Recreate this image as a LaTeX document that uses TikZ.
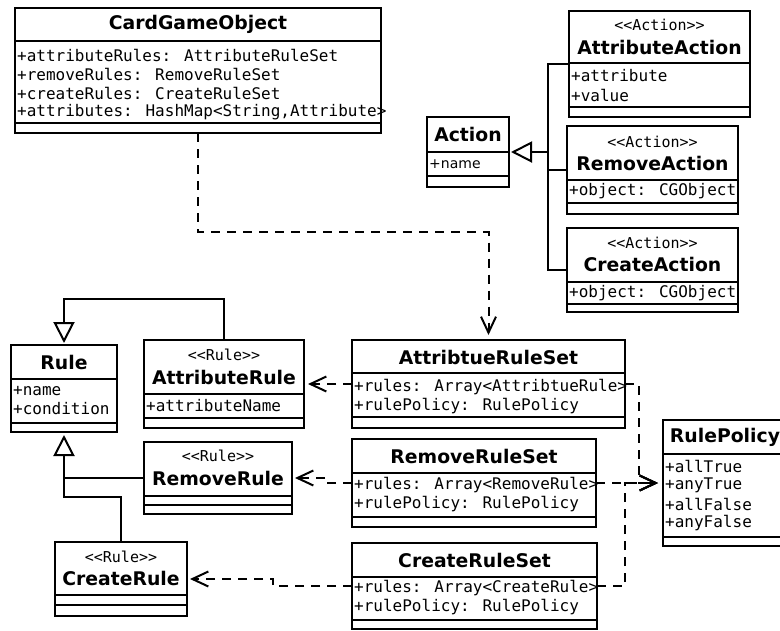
\documentclass[tikz,border=0pt]{standalone}
\usepackage{fontspec}
\setmainfont{DejaVu Sans}
\newfontfamily\monof{DejaVu Sans Mono}
\usetikzlibrary{arrows.meta,calc}
\tikzset{
  box/.style={draw, line width=2pt, fill=white, inner sep=0pt, outer sep=0pt, anchor=north west},
  sepline/.style={line width=2pt},
  ttl/.style={font=\fontsize{18.8}{20}\selectfont\bfseries, inner sep=0pt},
  stereo/.style={font=\monof\fontsize{15}{17}\selectfont, inner sep=0pt},
  attr/.style={font=\monof\fontsize{16}{18}\selectfont, inner sep=0pt, anchor=west},
  sattr/.style={font=\fontsize{14}{16}\selectfont, inner sep=0pt, anchor=west},
  conn/.style={line width=2pt},
  gen/.style={conn, -{Triangle[open, length=21pt, width=21pt, line width=2pt, fill=white]}},
  dep/.style={conn, dash pattern=on 9pt off 7pt, -{Straight Barb[length=16pt, width=15pt, line width=2pt]}},
}
\newcommand\umlbox[5]{%
  \node[box, minimum width={(#4-#2)*1pt}, minimum height={(#5-#3)*1pt}] (#1) at (#2,#3) {};}
\newcommand\umlsep[2]{\draw[sepline] (#1.west |- 0,#2) -- (#1.east |- 0,#2);}
\begin{document}
\begin{tikzpicture}[x=1pt,y=-1pt]
\fill[white] (0,0) rectangle (780,630);
\useasboundingbox (0,0) rectangle (780,630);

% ---------- boxes ----------
\umlbox{cgo}{15}{8}{381}{133}
\umlsep{cgo}{41}\umlsep{cgo}{123}
\umlbox{action}{427}{117}{509}{187}
\umlsep{action}{152}\umlsep{action}{176}
\umlbox{aact}{569}{11}{750}{117}
\umlsep{aact}{63}\umlsep{aact}{107}
\umlbox{ract}{567}{126}{738}{214}
\umlsep{ract}{180}\umlsep{ract}{203}
\umlbox{cact}{567}{228}{738}{312}
\umlsep{cact}{282}\umlsep{cact}{304}
\umlbox{rule}{11}{345}{117}{432}
\umlsep{rule}{379}\umlsep{rule}{423}
\umlbox{arule}{144}{340}{304}{428}
\umlsep{arule}{394}\umlsep{arule}{418}
\umlbox{rrule}{144}{442}{292}{514}
\umlsep{rrule}{496}\umlsep{rrule}{505}
\umlbox{crule}{55}{542}{187}{616}
\umlsep{crule}{595}\umlsep{crule}{605}
\umlbox{aset}{352}{340}{625}{428}
\umlsep{aset}{373}\umlsep{aset}{417}
\umlbox{rset}{352}{439}{596}{527}
\umlsep{rset}{473}\umlsep{rset}{517}
\umlbox{cset}{352}{543}{597}{629}
\umlsep{cset}{577}\umlsep{cset}{620}
\umlbox{rpol}{663}{420}{787}{546}
\umlsep{rpol}{454}\umlsep{rpol}{537}

% ---------- texts ----------
\node[ttl] (cgo-t) at (198,24.5) {CardGameObject};
\node[attr] (cgo-a1) at (17,55) {+attributeRules: AttributeRuleSet};
\node[attr] (cgo-a2) at (17,74) {+removeRules: RemoveRuleSet};
\node[attr] (cgo-a3) at (17,93) {+createRules: CreateRuleSet};
\node[attr] (cgo-a4) at (17,112) {+attributes: HashMap<String,Attribute>};

\node[ttl] (action-t) at (468,134.5) {Action};
\node[sattr] (action-a1) at (429,164) {+name};

\node[stereo] (aact-s) at (659.5,25) {<\kern0pt<Action>\kern0pt>};
\node[ttl] (aact-t) at (659.5,47) {AttributeAction};
\node[attr] (aact-a1) at (571,76) {+attribute};
\node[attr] (aact-a2) at (571,95) {+value};

\node[stereo] (ract-s) at (652.5,142) {<\kern0pt<Action>\kern0pt>};
\node[ttl] (ract-t) at (652.5,163) {RemoveAction};
\node[attr] (ract-a1) at (569,191.5) {+object: CGObject};

\node[stereo] (cact-s) at (652.5,243) {<\kern0pt<Action>\kern0pt>};
\node[ttl] (cact-t) at (652.5,264) {CreateAction};
\node[attr] (cact-a1) at (569,293) {+object: CGObject};

\node[ttl] (rule-t) at (64,362) {Rule};
\node[attr] (rule-a1) at (13,391) {+name};
\node[attr] (rule-a2) at (13,409) {+condition};

\node[stereo] (arule-s) at (224,355) {<\kern0pt<Rule>\kern0pt>};
\node[ttl] (arule-t) at (224,377) {AttributeRule};
\node[attr] (arule-a1) at (146,406) {+attributeName};

\node[stereo] (rrule-s) at (218,456) {<\kern0pt<Rule>\kern0pt>};
\node[ttl] (rrule-t) at (218,478) {RemoveRule};

\node[stereo] (crule-s) at (121,557) {<\kern0pt<Rule>\kern0pt>};
\node[ttl] (crule-t) at (121,578) {CreateRule};

\node[ttl] (aset-t) at (488.5,357) {AttribtueRuleSet};
\node[attr] (aset-a1) at (354,387) {+rules: Array<AttribtueRule>};
\node[attr] (aset-a2) at (354,406) {+rulePolicy: RulePolicy};

\node[ttl] (rset-t) at (474,456) {RemoveRuleSet};
\node[attr] (rset-a1) at (354,485) {+rules: Array<RemoveRule>};
\node[attr] (rset-a2) at (354,504) {+rulePolicy: RulePolicy};

\node[ttl] (cset-t) at (474.5,560) {CreateRuleSet};
\node[attr] (cset-a1) at (354,588) {+rules: Array<CreateRule>};
\node[attr] (cset-a2) at (354,607) {+rulePolicy: RulePolicy};

\node[ttl] (rpol-t) at (725,437) {RulePolicy};
\node[attr] (rpol-a1) at (665,466) {+allTrue};
\node[attr] (rpol-a2) at (665,485) {+anyTrue};
\node[attr] (rpol-a3) at (665,504) {+allFalse};
\node[attr] (rpol-a4) at (665,523) {+anyFalse};

% ---------- connectors ----------
\coordinate (ajoin) at (548,152);
\draw[conn] (aact.west) -| (ajoin);
\draw[conn] (ract.west) -| (ajoin);
\draw[conn] (cact.west) -| (ajoin);
\draw[gen, shorten >=2pt] (ajoin) -- (action.east);

\draw[dep, shorten >=5pt] ([xshift=183pt]cgo.south west) -- ++(0,99) -| (aset.north);

\draw[gen, shorten >=2pt] (arule.north) -- ++(0,-41) -| (rule.north);
\coordinate (rjoin) at (rule.south |- rrule.west);
\draw[gen, shorten >=3pt] (rjoin) -- (rule.south);
\draw[conn] (rrule.west) -- (rjoin);
\draw[conn] (crule.north) -- ++(0,-45) -| (rjoin);

\draw[dep, shorten >=4pt] (aset.west) -- (arule.east);
\draw[dep, shorten >=3pt] (rset.west) -- ++(-24,0) |- (rrule.east);
\draw[dep, shorten >=3pt] (cset.west) -- ++(-79,0) |- (crule.east);

\draw[dep, shorten >=5pt] (aset.east) -- ++(14,0) |- (rpol.west);
\draw[dep, shorten >=5pt] (rset.east) -- (rpol.west);
\draw[dep, shorten >=5pt] (cset.east) -- ++(28,0) |- (rpol.west);
\end{tikzpicture}
\end{document}
